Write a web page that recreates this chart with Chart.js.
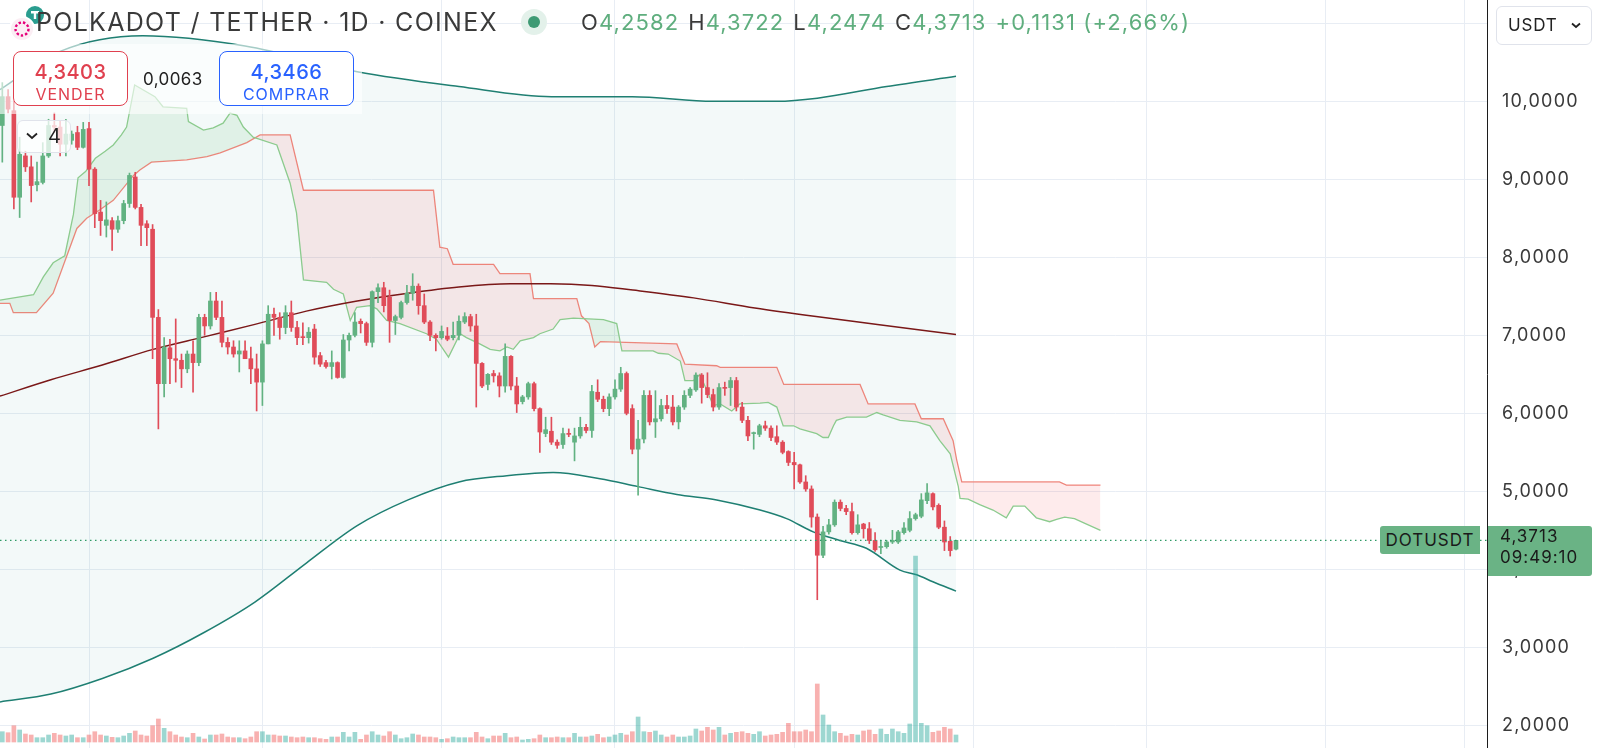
<!DOCTYPE html>
<html>
<head>
<meta charset="utf-8">
<title>POLKADOT / TETHER · 1D · COINEX</title>
<script src="https://cdn.jsdelivr.net/npm/chart.js@4.4.1/dist/chart.umd.min.js"></script>
<style>
  body { margin: 0; background: #fff; font-family: Inter, "Noto Sans", sans-serif; }
  #wrap { position: relative; width: 1600px; height: 748px; overflow: hidden; }
  #chart { position: absolute; left: 0; top: 0; }
  .abs { position: absolute; white-space: nowrap; }
  #title { left: 36px; top: 6px; font-size: 25px; line-height: 32px; color: #3a3a3a; letter-spacing: 1.3px; }
  #ohlc { left: 581px; top: 6px; font-size: 22px; line-height: 32px; color: #3a3a3a; letter-spacing: 1.1px; }
  #ohlc .v { color: #5fae7e; margin-right: 9px; }
  #panel { left: 0; top: 44px; width: 362px; height: 70px; background: rgba(255,255,255,0.6); }
  .tradeBox { top: 51px; height: 53px; border-radius: 8px; background: #fff; text-align: center; }
  .tradeBox .p { font-size: 20px; line-height: 24px; margin-top: 8px; font-weight: 500; letter-spacing: 0.5px; }
  .tradeBox .l { font-size: 16px; line-height: 20px; letter-spacing: 1px; }
  #sell { left: 13px; width: 113px; border: 1px solid #e0404f; color: #e0404f; }
  #buy { left: 219px; width: 133px; border: 1px solid #2962ff; color: #2962ff; }
  #spread { left: 143px; top: 69px; font-size: 17px; color: #222; letter-spacing: 0.4px; }
  #legendBtn { left: 17px; top: 120px; width: 52px; height: 31px; border: 1px solid #e0e3eb; border-radius: 6px;
               background: rgba(255,255,255,0.75); font-size: 20px; line-height: 31px; color: #222; }
  #legendBtn svg { position: absolute; left: 8px; top: 11px; }
  #legendBtn span { position: absolute; left: 30px; }
  #currency { left: 1496px; top: 6px; width: 94px; height: 37px; border: 1px solid #e0e3eb; border-radius: 6px;
              background: #fff; font-size: 17px; line-height: 37px; color: #222; letter-spacing: 0.8px; }
  #currency span { position: absolute; left: 11px; }
  #currency svg { position: absolute; left: 74px; top: 15px; }
  .priceTag { background: #6ab385; color: #1a1a1a; font-size: 17px; letter-spacing: 1px; }
  #symTag { left: 1380px; width: 100px; height: 28px; line-height: 28px; text-align: center; border-radius: 3px 0 0 3px; }
  #lastTag { left: 1488px; width: 104px; height: 50px; line-height: 21px; border-radius: 0 3px 3px 0; }
  #lastTag div { padding-left: 12px; }
</style>
</head>
<body>
<div id="wrap">
  <canvas id="chart" width="1600" height="748"></canvas>

  <svg class="abs" style="left:6px;top:3px" width="40" height="40">
    <circle cx="29" cy="12" r="9" fill="#2a9d8f"/>
    <rect x="25" y="8" width="8" height="2.5" fill="#fff"/>
    <rect x="27.8" y="8" width="2.4" height="8" fill="#fff"/>
    <circle cx="16" cy="26" r="12" fill="#fbeef4" stroke="#fff" stroke-width="2"/>
    <circle cx="16" cy="26" r="6.5" fill="none" stroke="#e6007a" stroke-width="2.4" stroke-dasharray="2.4 2"/>
  </svg>
  <div id="title" class="abs">POLKADOT / TETHER · 1D · COINEX</div>
  <svg class="abs" style="left:520px;top:8px" width="28" height="28">
    <circle cx="14" cy="14" r="13" fill="#e3f1ea"/>
    <circle cx="14" cy="14" r="6" fill="#3e9a74"/>
  </svg>
  <div id="ohlc" class="abs">O<span class="v">4,2582</span>H<span class="v">4,3722</span>L<span class="v">4,2474</span>C<span class="v">4,3713</span><span class="v">+0,1131 (+2,66%)</span></div>

  <div id="panel" class="abs"></div>
  <div id="sell" class="abs tradeBox"><div class="p">4,3403</div><div class="l">VENDER</div></div>
  <div id="spread" class="abs">0,0063</div>
  <div id="buy" class="abs tradeBox"><div class="p">4,3466</div><div class="l">COMPRAR</div></div>
  <div id="legendBtn" class="abs">
    <svg width="12" height="8"><path d="M1 1.5 L6 6 L11 1.5" fill="none" stroke="#222" stroke-width="1.8"/></svg>
    <span>4</span>
  </div>

  <div id="currency" class="abs"><span>USDT</span>
    <svg width="10" height="7"><path d="M1 1.5 L5 5 L9 1.5" fill="none" stroke="#222" stroke-width="1.8"/></svg>
  </div>
  <div id="symTag" class="abs priceTag">DOTUSDT</div>
  <div id="lastTag" class="abs priceTag"><div id="lastPrice">4,3713</div><div>09:49:10</div></div>
</div>

<script>
// ===========================
// Dados (dias contados a partir de 1 abr 2024, 1 candle por dia)
// ===========================
const firstDay = -15;            // 17 mar 2024
const monthStarts = [0, 30, 61, 91, 122, 153, 183, 214, 238];
const viewMin = -15.4;
const viewMax = 241.87;

const opens = [
  9.69, 10.06, 9.88, 8.77, 9.30, 9.16, 8.93, 8.96, 9.30, 9.69,
  9.67, 9.45, 9.50, 9.60, 9.41, 9.65, 9.13, 8.58, 8.41, 8.47,
  8.36, 8.47, 8.69, 9.03, 8.64, 8.43, 8.36, 7.23, 6.38, 6.84,
  6.70, 6.68, 6.57, 6.76, 6.65, 7.23, 7.12, 7.44, 7.23, 6.91,
  6.85, 6.76, 6.80, 6.70, 6.57, 6.40, 6.89, 7.27, 7.23, 7.10,
  7.29, 7.10, 6.98, 6.97, 7.08, 6.74, 6.65, 6.60, 6.65, 6.46,
  6.94, 7.00, 7.18, 7.15, 6.91, 7.56, 7.61, 7.49, 7.19, 7.23,
  7.42, 7.54, 7.63, 7.38, 7.17, 7.00, 6.97, 6.99, 6.97, 7.00,
  7.17, 7.24, 7.12, 6.64, 6.37, 6.51, 6.48, 6.35, 6.73, 6.35,
  6.15, 6.21, 6.38, 6.06, 5.74, 5.77, 5.63, 5.60, 5.74, 5.63,
  5.71, 5.82, 5.78, 6.27, 6.18, 6.06, 6.21, 6.31, 6.51, 6.06,
  5.54, 5.67, 6.23, 5.89, 5.93, 6.10, 6.08, 5.89, 6.08, 6.23,
  6.30, 6.49, 6.33, 6.24, 6.08, 6.33, 6.33, 6.42, 6.08, 5.91,
  5.74, 5.73, 5.84, 5.81, 5.70, 5.63, 5.51, 5.37, 5.34, 5.12,
  5.03, 4.67, 4.18, 4.48, 4.57, 4.86, 4.78, 4.74, 4.47, 4.58,
  4.52, 4.37, 4.28, 4.29, 4.35, 4.35, 4.47, 4.50, 4.65, 4.68,
  4.88, 4.97, 4.82, 4.54, 4.36, 4.2582
];
const highs = [
  10.24, 10.15, 10.00, 9.54, 9.36, 9.30, 9.22, 9.47, 9.77, 9.85,
  9.75, 9.77, 9.62, 9.68, 9.73, 9.73, 9.15, 8.73, 8.71, 8.51,
  8.53, 8.73, 9.08, 9.09, 8.68, 8.47, 8.42, 7.33, 6.97, 6.95,
  7.21, 6.76, 6.80, 6.93, 7.27, 7.27, 7.55, 7.55, 7.44, 6.97,
  6.93, 6.93, 6.93, 6.85, 6.76, 6.93, 7.38, 7.35, 7.29, 7.38,
  7.44, 7.18, 7.16, 7.10, 7.14, 6.78, 6.68, 6.80, 6.66, 7.01,
  7.03, 7.29, 7.21, 7.17, 7.57, 7.66, 7.68, 7.58, 7.26, 7.44,
  7.64, 7.79, 7.66, 7.53, 7.19, 7.02, 7.12, 7.10, 7.17, 7.25,
  7.29, 7.27, 7.27, 6.65, 6.51, 6.55, 6.52, 6.89, 6.74, 6.46,
  6.23, 6.40, 6.40, 6.07, 5.95, 5.95, 5.66, 5.81, 5.80, 5.81,
  5.95, 5.86, 6.36, 6.43, 6.22, 6.25, 6.43, 6.59, 6.53, 6.11,
  5.91, 6.29, 6.29, 6.29, 6.18, 6.23, 6.23, 6.10, 6.29, 6.33,
  6.52, 6.51, 6.52, 6.31, 6.38, 6.40, 6.46, 6.46, 6.14, 5.96,
  5.76, 5.86, 5.90, 5.84, 5.84, 5.65, 5.52, 5.50, 5.35, 5.20,
  5.07, 4.71, 4.55, 4.64, 4.89, 4.89, 4.82, 4.85, 4.70, 4.59,
  4.60, 4.47, 4.37, 4.37, 4.50, 4.50, 4.60, 4.74, 4.72, 4.97,
  5.10, 4.98, 4.84, 4.62, 4.42, 4.3722
];
const lows = [
  9.22, 9.85, 8.62, 8.51, 9.10, 8.71, 8.85, 8.94, 9.28, 9.60,
  9.30, 9.30, 9.45, 9.38, 9.40, 8.92, 8.38, 8.28, 8.26, 8.09,
  8.32, 8.43, 8.64, 8.62, 8.15, 8.15, 6.70, 5.80, 6.21, 6.38,
  6.40, 6.33, 6.52, 6.27, 6.61, 7.00, 7.08, 7.20, 6.85, 6.76,
  6.72, 6.53, 6.70, 6.38, 6.03, 6.10, 6.89, 7.00, 6.95, 7.02,
  7.05, 6.88, 6.88, 6.90, 6.63, 6.60, 6.58, 6.44, 6.45, 6.45,
  6.80, 6.98, 7.03, 6.87, 6.85, 7.42, 7.30, 6.91, 7.01, 7.21,
  7.40, 7.45, 7.27, 7.15, 6.93, 6.80, 6.95, 6.93, 6.94, 6.94,
  7.15, 7.05, 6.08, 6.33, 6.30, 6.40, 6.21, 6.27, 6.30, 6.01,
  6.12, 6.18, 6.03, 5.50, 5.70, 5.60, 5.55, 5.55, 5.70, 5.39,
  5.68, 5.75, 5.69, 6.15, 6.02, 5.97, 6.18, 6.28, 5.98, 5.48,
  4.95, 5.62, 5.85, 5.69, 5.90, 6.00, 5.85, 5.80, 6.05, 6.20,
  6.28, 6.13, 6.20, 6.03, 6.05, 6.23, 6.10, 6.03, 5.88, 5.65,
  5.54, 5.70, 5.78, 5.65, 5.60, 5.48, 5.33, 5.03, 5.10, 5.00,
  4.54, 3.61, 4.15, 4.45, 4.55, 4.75, 4.70, 4.45, 4.45, 4.40,
  4.33, 4.23, 4.20, 4.27, 4.33, 4.33, 4.45, 4.48, 4.63, 4.66,
  4.84, 4.76, 4.52, 4.24, 4.17, 4.2474
];
const closes = [
  10.06, 9.90, 8.77, 9.32, 9.16, 8.92, 8.97, 9.30, 9.69, 9.67,
  9.45, 9.58, 9.58, 9.41, 9.64, 9.13, 8.56, 8.47, 8.48, 8.36,
  8.47, 8.69, 9.05, 8.64, 8.41, 8.38, 7.23, 6.38, 6.85, 6.70,
  6.68, 6.57, 6.76, 6.65, 7.23, 7.12, 7.44, 7.23, 6.91, 6.85,
  6.76, 6.80, 6.70, 6.57, 6.40, 6.89, 7.27, 7.23, 7.10, 7.29,
  7.10, 6.97, 6.97, 7.04, 6.72, 6.63, 6.60, 6.65, 6.46, 6.94,
  7.00, 7.17, 7.15, 6.91, 7.56, 7.61, 7.38, 7.19, 7.24, 7.42,
  7.54, 7.63, 7.38, 7.17, 7.00, 6.97, 7.05, 6.95, 7.00, 7.18,
  7.24, 7.12, 6.64, 6.35, 6.50, 6.48, 6.35, 6.73, 6.35, 6.12,
  6.21, 6.38, 6.06, 5.76, 5.79, 5.63, 5.59, 5.74, 5.73, 5.71,
  5.82, 5.78, 6.28, 6.18, 6.06, 6.21, 6.31, 6.51, 6.00, 5.54,
  5.67, 6.23, 5.89, 5.93, 6.10, 6.06, 5.89, 6.08, 6.23, 6.31,
  6.49, 6.33, 6.24, 6.08, 6.33, 6.32, 6.42, 6.08, 5.91, 5.71,
  5.75, 5.84, 5.81, 5.69, 5.63, 5.50, 5.37, 5.34, 5.12, 5.03,
  4.67, 4.18, 4.48, 4.57, 4.86, 4.78, 4.74, 4.47, 4.57, 4.52,
  4.37, 4.25, 4.29, 4.35, 4.37, 4.48, 4.53, 4.65, 4.70, 4.89,
  4.98, 4.80, 4.54, 4.35, 4.24, 4.3713
];
// volume relativo (mesma escala do painel inferior)
const volumes = [
  10.3, 9.3, 16.3, 12, 8, 7, 4.3, 4.3, 7, 8.7,
  7, 6, 7, 4.3, 4.3, 7, 10.3, 7, 6, 4.7,
  4.3, 6, 8.7, 11, 7, 6, 16.3, 23, 13.7, 10.3,
  7, 5, 4.3, 8.7, 5, 3, 7, 7, 8, 5,
  4.3, 4.3, 3.3, 5, 10.3, 10.3, 7, 7, 6, 6,
  5, 4.3, 5, 4.3, 4.3, 3.3, 2.7, 5, 5, 9.7,
  5, 9.7, 2.7, 7, 10.3, 7, 6, 10.3, 7, 3.3,
  4.3, 8, 7, 5, 5, 4.3, 2.7, 3.3, 5, 4.3,
  4.3, 4.3, 9.7, 5, 3.3, 6, 6, 8.7, 4.3, 5,
  2, 2.7, 3.3, 7, 4.3, 4.3, 5, 4.3, 4.3, 8.7,
  5, 5, 6, 7.7, 4.3, 5, 7, 8.7, 7, 10.3,
  25, 10.3, 9.7, 11, 7, 5, 7, 5, 5, 6,
  13, 11, 14.7, 12, 14.7, 7, 8.7, 9.7, 10.3, 8.7,
  7.7, 10.3, 6, 7, 7.7, 9.7, 18.7, 10.3, 10.3, 12,
  10.3, 58, 27, 17, 10.3, 8.7, 6, 7.7, 7, 11,
  12, 7.7, 13, 7.7, 13, 10.3, 8.7, 18, 186, 18.7,
  16.3, 9.7, 11, 14.7, 13, 7
];

// Bandas (superior / base / inferior)
const upperDays = [-15.4, -5, 9.3, 27, 46.4, 64, 80, 94, 108, 119, 126, 138, 150];
const upperVals = [10.15, 10.64, 10.84, 10.71, 10.38, 10.19, 10.06, 10.06, 10.0, 10.0, 10.04, 10.19, 10.32];
const basisDays = [-15.4, -6.6, 2.3, 11.1, 19.9, 28.7, 37.6, 46.4, 55.2, 64, 72.9, 79.9, 87, 94.1, 104.6, 115.2, 125.8, 136.4, 150];
const basisVals = [6.22, 6.43, 6.62, 6.82, 6.98, 7.14, 7.31, 7.44, 7.54, 7.62, 7.66, 7.66, 7.64, 7.58, 7.48, 7.35, 7.24, 7.14, 7.01];
const lowerDays = [-15.4, -6.6, 2.3, 11.1, 19.9, 28.7, 37.6, 46.4, 55.2, 64, 72.3, 80.3, 88.4, 95, 101.7, 108.6, 116.1, 120.7, 125.3, 129.9, 134.5, 140.3, 143.2, 146, 150];
const lowerVals = [2.30, 2.40, 2.60, 2.86, 3.19, 3.58, 4.08, 4.56, 4.89, 5.12, 5.20, 5.24, 5.16, 5.06, 4.96, 4.89, 4.76, 4.65, 4.48, 4.37, 4.27, 3.99, 3.93, 3.84, 3.72];

// Nuvem Ichimoku (span A verde, span B vermelho)
const spanADays = [-15.4, -9.6, -7.9, -6.2, -4.2, -2.7, -1.9, -0.6, 1.1, 2.8, 4.2, 5.6, 6.5, 7.9, 11.4, 12.8, 16.9, 17.2, 19.8, 21.5,
  23.2, 24.4, 25.6, 26.7, 28.4, 32.5, 34.8, 35.9, 37.1, 41.1, 42.3, 44, 45.2, 46.3, 48.6, 49.8, 51.5, 53.8, 58.4, 60.1,
  62.2, 64.2, 65.3, 67.6, 69.4, 71.1, 72.3, 73.4, 74.6, 76.9, 78, 80.3, 81.5, 83.8, 89, 91.3, 92.2, 97.6, 98.5, 100.2,
  102.3, 103.1, 104.6, 105.7, 108, 109.2, 111.2, 112.6, 116.1, 117.5, 119, 120.1, 121.9, 123, 125.9, 127, 127.9, 128.8, 129.3, 131.1,
  134.5, 136.3, 137.4, 140.3, 143.2, 145.5, 147.2, 149, 150.4, 150.7, 152.1, 154.1, 156.4, 158.7, 159.9, 161.9, 163.9, 166.2, 167.4, 168.8,
  170.5, 172.3, 175];
const spanAVals = [7.45, 7.52, 7.75, 7.93, 8.02, 8.55, 9.02, 9.10, 9.27, 9.36, 9.44, 9.57, 9.67, 10.21, 10.06, 9.93, 9.91, 9.74, 9.63, 9.66,
  9.72, 9.85, 9.82, 9.67, 9.54, 9.44, 8.95, 8.57, 7.71, 7.68, 7.59, 7.53, 7.19, 7.36, 7.38, 7.34, 7.19, 7.15, 7.02, 6.95,
  6.72, 7.02, 6.97, 6.89, 6.82, 6.80, 6.85, 6.82, 6.93, 6.97, 7.02, 7.08, 7.20, 7.22, 7.20, 7.15, 6.80, 6.80, 6.77, 6.76,
  6.67, 6.42, 6.42, 6.50, 6.10, 6.12, 6.03, 6.12, 6.13, 6.14, 6.08, 5.84, 5.84, 5.80, 5.74, 5.69, 5.69, 5.84, 5.91, 5.95,
  5.95, 6.01, 5.98, 5.91, 5.89, 5.84, 5.65, 5.48, 5.06, 4.91, 4.90, 4.83, 4.76, 4.66, 4.81, 4.81, 4.66, 4.61, 4.64, 4.67,
  4.65, 4.59, 4.50];
const spanBDays = [-15.4, -13.7, -13.1, -9.1, -6.2, -2.1, -0.4, 1.9, 4.2, 7.7, 8.8, 10.8, 16.9, 20.4, 22.7, 27.3, 29.6, 34.8, 37.1, 59.6,
  60.7, 62, 63, 70, 71.1, 76.3, 76.9, 84.4, 85.2, 86.5, 87.5, 88.5, 101.7, 103.1, 108.6, 109.2, 119, 120.2, 133.4, 134.8,
  142.9, 144, 147.8, 149.5, 150.1, 151, 167.9, 169.1, 175];
const spanBVals = [7.41, 7.41, 7.29, 7.29, 7.54, 8.37, 8.50, 8.61, 8.73, 9.05, 9.12, 9.22, 9.25, 9.29, 9.34, 9.47, 9.57, 9.57, 8.86, 8.86,
  8.13, 8.11, 7.91, 7.91, 7.79, 7.79, 7.47, 7.47, 7.25, 7.15, 6.85, 6.92, 6.89, 6.63, 6.61, 6.59, 6.59, 6.37, 6.37, 6.12,
  6.12, 5.93, 5.93, 5.65, 5.41, 5.12, 5.12, 5.08, 5.08];

// ===========================
// Cores
// ===========================
const upColor = "#62b282";
const downColor = "#e04c59";
const volUp = "rgba(38,166,154,0.45)";
const volDown = "rgba(239,83,80,0.45)";
const gridColor = "#e8edf4";

const days = closes.map((_, i) => firstDay + i);
const isUp = i => closes[i] >= opens[i];
const pts = (xs, ys) => xs.map((x, i) => ({ x, y: ys[i] }));
const lastClose = closes[closes.length - 1];

const fmt = v => v.toFixed(4).replace(".", ",");

const lineBase = { type: "line", pointRadius: 0, borderWidth: 1.5, yAxisID: "y" };

// espaçamento das letras dos rótulos do eixo
const letterSpacingPlugin = {
  id: "letterSpacing",
  beforeDraw(chart) { chart.ctx.letterSpacing = "1.2px"; }
};

// posiciona as etiquetas de preço no valor do último fechamento
const priceTagPlugin = {
  id: "priceTag",
  afterDraw(chart) {
    const y = chart.scales.y.getPixelForValue(lastClose);
    document.getElementById("symTag").style.top = (y - 14) + "px";
    document.getElementById("lastTag").style.top = (y - 14) + "px";
    document.getElementById("lastPrice").textContent = fmt(lastClose);
  }
};

new Chart(document.getElementById("chart"), {
  type: "bar",
  data: {
    datasets: [
      { ...lineBase, label: "BB superior", data: pts(upperDays, upperVals), borderColor: "#1f7f72",
        cubicInterpolationMode: "monotone", order: 20,
        fill: { target: 1, above: "rgba(38,150,140,0.055)", below: "rgba(38,150,140,0.055)" } },
      { ...lineBase, label: "BB inferior", data: pts(lowerDays, lowerVals), borderColor: "#1f7f72",
        cubicInterpolationMode: "monotone", order: 20, fill: false },
      { ...lineBase, label: "Span A", data: pts(spanADays, spanAVals), borderColor: "#8ccb8e", borderWidth: 1.3,
        order: 15, fill: { target: 3, above: "rgba(76,175,80,0.11)", below: "rgba(242,54,69,0.1)" } },
      { ...lineBase, label: "Span B", data: pts(spanBDays, spanBVals), borderColor: "#f0897f", borderWidth: 1.3,
        order: 15, fill: false },
      { ...lineBase, label: "Base", data: pts(basisDays, basisVals), borderColor: "#7a1818",
        cubicInterpolationMode: "monotone", order: 12, fill: false },
      { label: "Volume", yAxisID: "yv", grouped: false, barThickness: 4, order: 10,
        data: days.map((d, i) => ({ x: d, y: volumes[i] })),
        backgroundColor: ctx => isUp(ctx.dataIndex) ? volUp : volDown, borderWidth: 0 },
      { label: "Pavio", yAxisID: "y", grouped: false, barThickness: 1, order: 4,
        data: days.map((d, i) => ({ x: d, y: [lows[i], highs[i]] })),
        backgroundColor: ctx => isUp(ctx.dataIndex) ? upColor : downColor, borderWidth: 0 },
      { label: "Corpo", yAxisID: "y", grouped: false, barThickness: 4, minBarLength: 1, order: 3,
        data: days.map((d, i) => ({ x: d, y: [opens[i], closes[i]] })),
        backgroundColor: ctx => isUp(ctx.dataIndex) ? upColor : downColor, borderWidth: 0 },
      { ...lineBase, label: "Último", data: [{ x: viewMin, y: lastClose }, { x: viewMax, y: lastClose }],
        borderColor: "#2f9a66", borderWidth: 1.4, borderDash: [1.5, 3.5], order: 1, fill: false }
    ]
  },
  options: {
    responsive: false,
    devicePixelRatio: 1,
    animation: false,
    layout: { padding: 0 },
    plugins: { legend: { display: false }, tooltip: { enabled: false } },
    scales: {
      x: {
        type: "linear", min: viewMin, max: viewMax, offset: false,
        grid: { color: gridColor, drawTicks: false, offset: false },
        border: { display: false },
        ticks: { display: false },
        afterBuildTicks: s => { s.ticks = monthStarts.map(v => ({ value: v })); },
        afterFit: s => { s.height = 0; s.paddingLeft = 0; s.paddingRight = 0; }
      },
      y: {
        position: "right", min: 1.709, max: 11.299,
        grid: { color: gridColor, drawTicks: false },
        border: { display: true, color: "#1c1c1c", width: 1 },
        ticks: { stepSize: 1, includeBounds: false, padding: 15, color: "#3a3a3a",
                 font: { family: "Inter", size: 18 }, callback: v => fmt(v) },
        afterFit: s => { s.width = 113; s.paddingTop = 0; s.paddingBottom = 0; }
      },
      yv: { display: false, min: -6, max: 742 }
    }
  },
  plugins: [letterSpacingPlugin, priceTagPlugin]
});
</script>
</body>
</html>
